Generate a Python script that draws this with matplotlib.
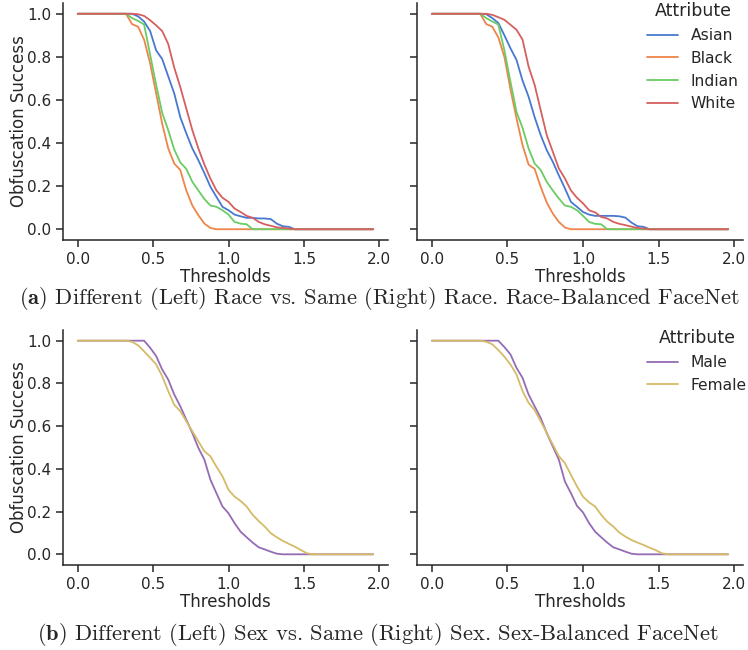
import numpy as np
import matplotlib
matplotlib.use("Agg")
import matplotlib.pyplot as plt
import seaborn as sns

sns.set_theme(style="ticks", context="notebook")
plt.rcParams["font.family"] = ["DejaVu Sans"]
plt.rcParams["mathtext.fontset"] = "cm"

# thresholds swept for every curve
thresholds = np.arange(0.0, 2.0, 0.04)

race_labels = ["Asian", "Black", "Indian", "White"]
sex_labels = ["Male", "Female"]

# different race (left) -- race-balanced FaceNet
diff_asian = [1, 1, 1, 1, 1, 1, 1, 1,
              1.0, 1.0, 0.988, 0.964, 0.92, 0.83, 0.79, 0.71, 0.63, 0.52,
              0.445, 0.375, 0.32, 0.26, 0.197, 0.15, 0.104, 0.088, 0.068, 0.06,
              0.053, 0.053, 0.05, 0.05, 0.047, 0.026, 0.014, 0.011, 0, 0,
              0, 0, 0, 0, 0, 0, 0, 0, 0, 0, 0, 0]
diff_black = [1, 1, 1, 1, 1, 1, 1, 1,
              1.0, 0.952, 0.94, 0.88, 0.77, 0.63, 0.49, 0.375, 0.305, 0.275,
              0.18, 0.11, 0.065, 0.026, 0.006, 0, 0, 0, 0, 0,
              0, 0, 0, 0, 0, 0, 0, 0, 0, 0,
              0, 0, 0, 0, 0, 0, 0, 0, 0, 0, 0, 0]
diff_indian = [1, 1, 1, 1, 1, 1, 1, 1,
               1.0, 0.98, 0.967, 0.95, 0.81, 0.67, 0.54, 0.46, 0.37, 0.31,
               0.28, 0.22, 0.18, 0.14, 0.11, 0.104, 0.088, 0.068, 0.034, 0.026,
               0.023, 0, 0, 0, 0, 0, 0, 0, 0, 0,
               0, 0, 0, 0, 0, 0, 0, 0, 0, 0, 0, 0]
diff_white = [1, 1, 1, 1, 1, 1, 1, 1,
              1.0, 1.0, 0.998, 0.99, 0.97, 0.946, 0.92, 0.86, 0.75, 0.66,
              0.56, 0.46, 0.375, 0.30, 0.235, 0.18, 0.146, 0.127, 0.096, 0.08,
              0.062, 0.053, 0.034, 0.023, 0.016, 0.009, 0.006, 0.003, 0, 0,
              0, 0, 0, 0, 0, 0, 0, 0, 0, 0, 0, 0]

# same race (right)
same_asian = [1, 1, 1, 1, 1, 1, 1, 1,
              1.0, 0.998, 0.98, 0.957, 0.90, 0.84, 0.786, 0.69, 0.615, 0.52,
              0.437, 0.367, 0.313, 0.25, 0.19, 0.127, 0.104, 0.08, 0.068, 0.062,
              0.062, 0.062, 0.062, 0.06, 0.054, 0.031, 0.014, 0.011, 0, 0,
              0, 0, 0, 0, 0, 0, 0, 0, 0, 0, 0, 0]
same_black = [1, 1, 1, 1, 1, 1, 1, 1,
              1.0, 0.952, 0.94, 0.89, 0.80, 0.65, 0.515, 0.39, 0.30, 0.28,
              0.197, 0.124, 0.073, 0.034, 0.008, 0, 0, 0, 0, 0,
              0, 0, 0, 0, 0, 0, 0, 0, 0, 0,
              0, 0, 0, 0, 0, 0, 0, 0, 0, 0, 0, 0]
same_indian = [1, 1, 1, 1, 1, 1, 1, 1,
               1.0, 0.98, 0.964, 0.95, 0.83, 0.685, 0.545, 0.47, 0.375, 0.305,
               0.275, 0.22, 0.18, 0.143, 0.11, 0.104, 0.088, 0.062, 0.034, 0.025,
               0.023, 0, 0, 0, 0, 0, 0, 0, 0, 0,
               0, 0, 0, 0, 0, 0, 0, 0, 0, 0, 0, 0]
same_white = [1, 1, 1, 1, 1, 1, 1, 1,
              1.0, 1.0, 0.995, 0.984, 0.972, 0.949, 0.926, 0.88, 0.755, 0.67,
              0.553, 0.437, 0.36, 0.282, 0.236, 0.18, 0.146, 0.12, 0.088, 0.078,
              0.057, 0.05, 0.034, 0.025, 0.019, 0.012, 0.006, 0.003, 0, 0,
              0, 0, 0, 0, 0, 0, 0, 0, 0, 0, 0, 0]

# different sex (left) -- sex-balanced FaceNet
diff_male = [1, 1, 1, 1, 1, 1, 1, 1,
             1.0, 1.0, 1.0, 1.0, 0.967, 0.928, 0.865, 0.818, 0.748, 0.693,
             0.63, 0.568, 0.498, 0.443, 0.349, 0.286, 0.224, 0.192, 0.146, 0.106,
             0.08, 0.055, 0.033, 0.023, 0.0125, 0.003, 0, 0, 0, 0,
             0, 0, 0, 0, 0, 0, 0, 0, 0, 0, 0, 0]
diff_female = [1, 1, 1, 1, 1, 1, 1, 1,
               1.0, 0.995, 0.978, 0.95, 0.92, 0.889, 0.834, 0.764, 0.70, 0.67,
               0.623, 0.576, 0.529, 0.482, 0.459, 0.41, 0.365, 0.302, 0.27, 0.25,
               0.224, 0.185, 0.156, 0.13, 0.099, 0.08, 0.063, 0.049, 0.036, 0.02,
               0.005, 0, 0, 0, 0, 0, 0, 0, 0, 0, 0, 0]

# same sex (right)
same_male = [1, 1, 1, 1, 1, 1, 1, 1,
             1.0, 1.0, 1.0, 1.0, 0.97, 0.936, 0.873, 0.826, 0.748, 0.693,
             0.638, 0.568, 0.505, 0.443, 0.341, 0.286, 0.227, 0.196, 0.146, 0.106,
             0.08, 0.055, 0.033, 0.023, 0.0125, 0.003, 0, 0, 0, 0,
             0, 0, 0, 0, 0, 0, 0, 0, 0, 0, 0, 0]
same_female = [1, 1, 1, 1, 1, 1, 1, 1,
               1.0, 0.995, 0.983, 0.956, 0.925, 0.889, 0.842, 0.764, 0.709, 0.675,
               0.623, 0.568, 0.514, 0.459, 0.427, 0.372, 0.318, 0.27, 0.243, 0.224,
               0.185, 0.153, 0.13, 0.102, 0.083, 0.067, 0.055, 0.044, 0.031, 0.02,
               0.005, 0, 0, 0, 0, 0, 0, 0, 0, 0, 0, 0]

captions = [r"$\mathbf{(a)}$ Different (Left) Race vs. Same (Right) Race. Race-Balanced FaceNet",
            r"$\mathbf{(b)}$ Different (Left) Sex vs. Same (Right) Sex. Sex-Balanced FaceNet"]

muted = sns.color_palette("muted")
race_colors = [muted[0], muted[1], muted[2], muted[3]]
sex_colors = [muted[4], muted[8]]

W, H = 748, 650
fig = plt.figure(figsize=(W / 100, H / 100), dpi=100)


def px_axes(left, top, right, bottom):
    return fig.add_axes([left / W, 1 - bottom / H, (right - left) / W, (bottom - top) / H])


ax_tl = px_axes(63, 3, 388, 240)
ax_tr = px_axes(417, 3, 743, 240)
ax_bl = px_axes(63, 330, 388, 565)
ax_br = px_axes(417, 330, 743, 565)

rows = [
    (ax_tl, ax_tr, [diff_asian, diff_black, diff_indian, diff_white],
     [same_asian, same_black, same_indian, same_white], race_labels, race_colors),
    (ax_bl, ax_br, [diff_male, diff_female], [same_male, same_female],
     sex_labels, sex_colors),
]

for ax_l, ax_r, left_series, right_series, labels, colors in rows:
    for ax, series in ((ax_l, left_series), (ax_r, right_series)):
        for vals, lab, col in zip(series, labels, colors):
            ax.plot(thresholds, vals, color=col, lw=1.3, label=lab)
        ax.set_xlim(-0.098, 2.058)
        ax.set_ylim(-0.05, 1.05)
        ax.set_xticks([0.0, 0.5, 1.0, 1.5, 2.0])
        ax.set_yticks([0.0, 0.2, 0.4, 0.6, 0.8, 1.0])
        ax.tick_params(labelsize=11, length=5, width=1.1)
        ax.set_xlabel("Thresholds", fontsize=12, labelpad=1)
        for sp in ("left", "bottom"):
            ax.spines[sp].set_linewidth(1.1)
        sns.despine(ax=ax)
    ax_l.set_ylabel("Obfuscation Success", fontsize=12, labelpad=-1)
    ax_r.set_yticklabels([])

# legends sit in the top right corner of each right-hand panel
leg_kw = dict(title="Attribute", frameon=False, fontsize=11.2, title_fontsize=12.5,
              loc="upper left", borderaxespad=0, labelspacing=0.5,
              bbox_transform=fig.transFigure)
ax_tr.legend(bbox_to_anchor=(641 / W, 1 + 4 / H), **leg_kw)
ax_br.legend(bbox_to_anchor=(641 / W, 1 - 323 / H), **leg_kw)

fig.text(379 / W, 1 - 298 / H, captions[0], fontfamily="cmr10", fontsize=16.2,
         ha="center", va="center")
fig.text(378 / W, 1 - 634 / H, captions[1], fontfamily="cmr10", fontsize=16.2,
         ha="center", va="center")

fig.savefig("out.png", dpi=100)
